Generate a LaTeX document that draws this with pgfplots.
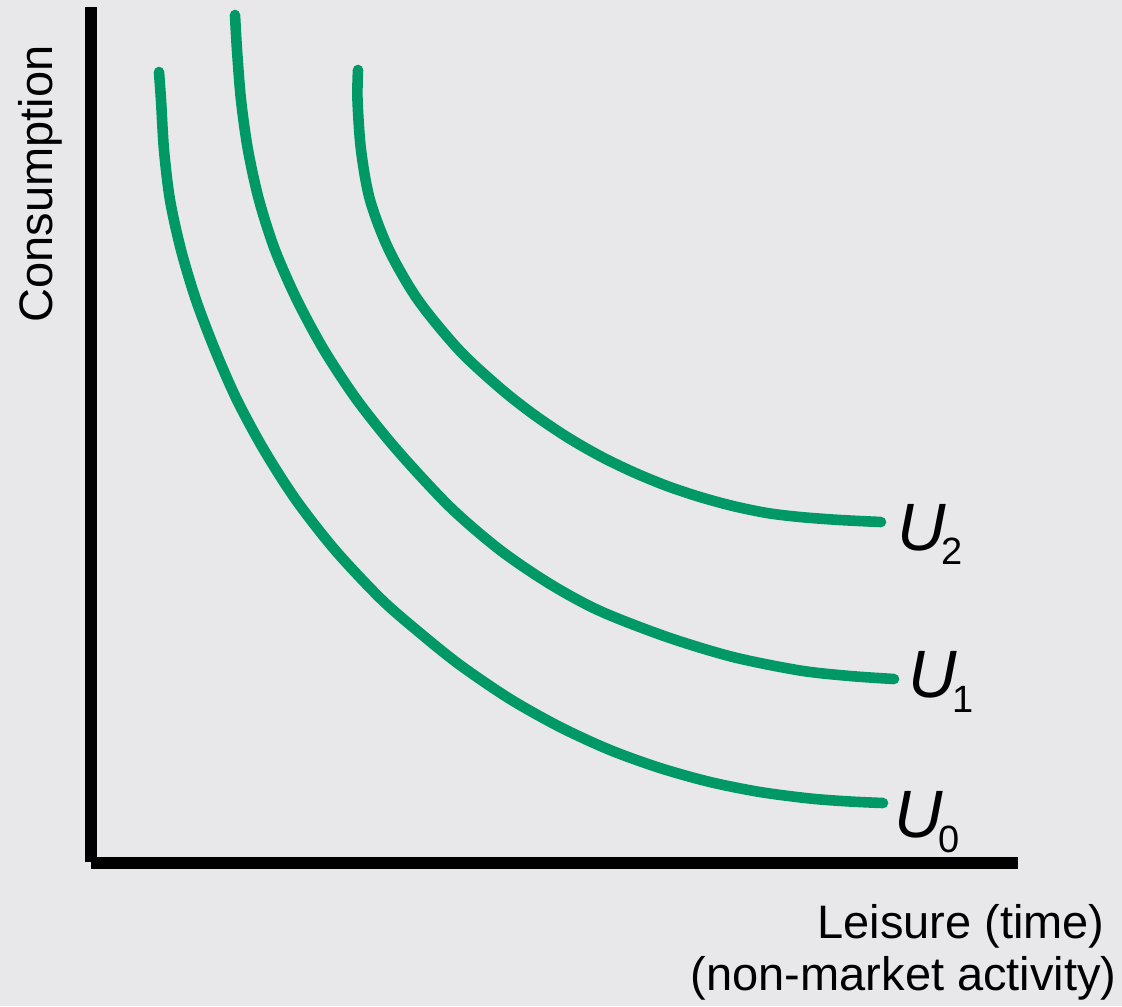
\documentclass[border=0pt]{standalone}
\usepackage{fontspec}
\setmainfont{Liberation Sans}
\usepackage{pgfplots}
\pgfplotsset{compat=1.18}
\definecolor{bg}{RGB}{232,232,234}
\definecolor{curve}{RGB}{0,153,102}

\begin{document}
\begin{tikzpicture}
\begin{axis}[
    scale only axis, width=561pt, height=503pt,
    xmin=0, xmax=1122, ymin=0, ymax=1006, y dir=reverse,
    hide axis, clip=false,
]
\fill[bg] (axis cs:0,0) rectangle (axis cs:1122,1006);
% axes
\addplot[black, line width=6pt] coordinates {(91,7) (91,862)};
\addplot[black, line width=6pt] coordinates {(91,863) (1018,863)};
% U0
\addplot[curve, line width=5.3pt, line cap=round, smooth] coordinates {
(159,72) (161,100) (164,150) (170,200) (181,250) (196,300) (215,350)
(237,400) (264,450) (296,500) (335,550) (381,599) (420,633) (460,665)
(510,699) (560,727) (610,750) (660,768) (710,782) (760,792) (810,798.5)
(850,801.5) (883,803)
};
% U1
\addplot[curve, line width=5.3pt, line cap=round, smooth] coordinates {
(235,15) (237,50) (241,100) (248,150) (259,200) (275,250) (297,300)
(324,350) (357,400) (397,450) (450,507) (500,550) (550,584) (600,611)
(667,637) (733,657) (800,670.5) (850,676) (894,679)
};
% U2
\addplot[curve, line width=5.3pt, line cap=round, smooth] coordinates {
(358,70) (357.5,100) (361,150) (370,200) (389,250) (418,300) (459,350)
(500,388) (533,414) (567,437) (600,456) (633,472) (667,486) (700,497)
(733,506) (767,513) (800,517) (840,520) (881,522)
};
\node[rotate=90, anchor=base, inner sep=0pt, font=\fontsize{23.5}{28}\selectfont] at (axis cs:52,184) {Consumption};
\node[anchor=base east, inner sep=0pt, font=\fontsize{23.5}{28}\selectfont] at (axis cs:1105,938) {Leisure (time)};
\node[anchor=base east, inner sep=0pt, font=\fontsize{23.5}{28}\selectfont] at (axis cs:1117,990) {(non-market activity)};
\node[anchor=base west, inner sep=0pt] at (axis cs:897,550) {{\fontsize{33.5}{40}\selectfont\itshape U}\kern-2pt\raisebox{-7pt}{\fontsize{19}{20}\selectfont 2}};
\node[anchor=base west, inner sep=0pt] at (axis cs:908,697) {{\fontsize{33.5}{40}\selectfont\itshape U}\kern-2pt\raisebox{-7.5pt}{\fontsize{19}{20}\selectfont 1}};
\node[anchor=base west, inner sep=0pt] at (axis cs:894,837) {{\fontsize{33.5}{40}\selectfont\itshape U}\kern-2pt\raisebox{-7.5pt}{\fontsize{19}{20}\selectfont 0}};
\end{axis}
\end{tikzpicture}
\end{document}
